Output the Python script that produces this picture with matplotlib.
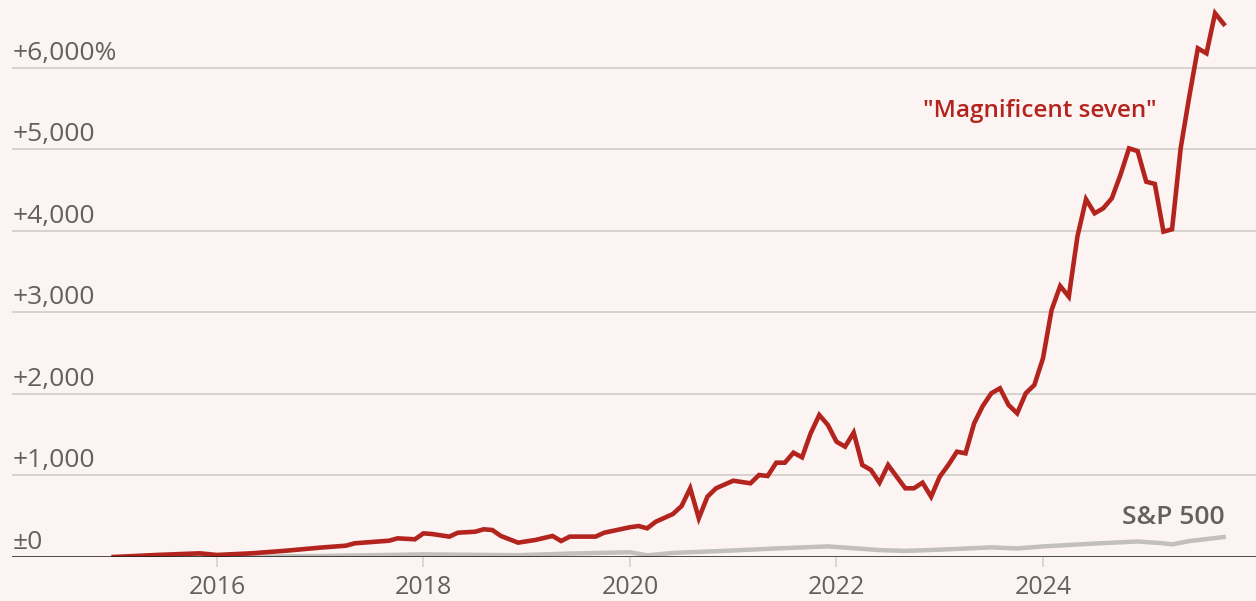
import matplotlib
matplotlib.use("Agg")
import matplotlib.pyplot as plt
import matplotlib.transforms as mtransforms

# ---- data (cumulative return, %) ----
mag7_dates = ["2015-01", "2015-06", "2015-11", "2016-01", "2016-05", "2016-09", "2017-01",
              "2017-04", "2017-05", "2017-09", "2017-10", "2017-12", "2018-01", "2018-02",
              "2018-04", "2018-05", "2018-07", "2018-08", "2018-09", "2018-10", "2018-12",
              "2019-02", "2019-04", "2019-05", "2019-06", "2019-09", "2019-10", "2020-01",
              "2020-02", "2020-03", "2020-04", "2020-06", "2020-07", "2020-08", "2020-09",
              "2020-10", "2020-11", "2021-01", "2021-03", "2021-04", "2021-05", "2021-06",
              "2021-07", "2021-08", "2021-09", "2021-10", "2021-11", "2021-12", "2022-01",
              "2022-02", "2022-03", "2022-04", "2022-05", "2022-06", "2022-07", "2022-08",
              "2022-09", "2022-10", "2022-11", "2022-12", "2023-01", "2023-02", "2023-03",
              "2023-04", "2023-05", "2023-06", "2023-07", "2023-08", "2023-09", "2023-10",
              "2023-11", "2023-12", "2024-01", "2024-02", "2024-03", "2024-04", "2024-05",
              "2024-06", "2024-07", "2024-08", "2024-09", "2024-10", "2024-11", "2024-12",
              "2025-01", "2025-02", "2025-03", "2025-04", "2025-05", "2025-06", "2025-07",
              "2025-08", "2025-09", "2025-10"]
mag7_values = [0, 25, 45, 25, 45, 77, 115,
               139, 168, 200, 229, 217, 290, 282,
               250, 298, 310, 340, 331, 258, 176,
               209, 258, 196, 250, 250, 298, 365,
               380, 352, 433, 528, 626, 843, 475,
               740, 843, 936, 904, 1006, 994, 1157,
               1157, 1280, 1223, 1518, 1742, 1620, 1415,
               1354, 1526, 1129, 1068, 912, 1129, 985,
               843, 843, 912, 740, 985, 1129, 1292,
               1272, 1641, 1853, 2009, 2070, 1865, 1763,
               2009, 2111, 2438, 3031, 3325, 3194, 3931,
               4389, 4217, 4278, 4401, 4687, 5014, 4980,
               4605, 4577, 3992, 4021, 5014, 5648, 6241,
               6180, 6671, 6540]

sp_dates = ["2015-01", "2015-08", "2016-01", "2016-06", "2017-01", "2018-01", "2018-12",
            "2019-06", "2020-01", "2020-03", "2020-06", "2021-01", "2021-06", "2021-12",
            "2022-06", "2022-09", "2023-01", "2023-07", "2023-10", "2024-01", "2024-07",
            "2024-12", "2025-03", "2025-04", "2025-06", "2025-10"]
sp_values = [0, 0, -3, 5, 12, 32, 22,
             42, 58, 20, 50, 80, 105, 130,
             85, 75, 90, 118, 105, 130, 165,
             190, 168, 155, 195, 245]

ytick_values = [0, 1000, 2000, 3000, 4000, 5000, 6000]
ytick_labels = ["±0", "+1,000", "+2,000", "+3,000", "+4,000", "+5,000", "+6,000%"]
xtick_years = [2016, 2018, 2020, 2022, 2024]


def to_year(s):
    y, m = s.split("-")
    return int(y) + (int(m) - 1) / 12.0


mag7_x = [to_year(d) for d in mag7_dates]
sp_x = [to_year(d) for d in sp_dates]

# ---- style ----
BG = "#fbf4f2"
RED = "#b3241f"
GREY_LINE = "#c2bfbd"
TEXT = "#66605c"
GRID = "#d8d2cf"
FONT = ["Open Sans", "DejaVu Sans"]
plt.rcParams["font.family"] = FONT

W, H = 1256, 601
fig = plt.figure(figsize=(W / 100, H / 100), dpi=100, facecolor=BG)
ax = fig.add_axes([12 / W, (H - 557) / H, (W - 12) / W, 557 / H])
ax.set_facecolor(BG)

ax.set_xlim(2014.015, 2026.063)
ax.set_ylim(0, 6834)

for v in ytick_values[1:]:
    ax.axhline(v, color=GRID, lw=1.4, zorder=1)

ax.plot(sp_x, sp_values, color=GREY_LINE, lw=3.2, zorder=3, solid_joinstyle="round")
ax.plot(mag7_x, mag7_values, color=RED, lw=3.3, zorder=4, solid_joinstyle="miter")

ax.axhline(0, color="#1a1a1a", lw=1.8, zorder=5)

for s in ax.spines.values():
    s.set_visible(False)

ax.set_yticks([])
ax.set_xticks(xtick_years)
ax.set_xticklabels([str(y) for y in xtick_years])
ax.tick_params(axis="x", length=7, width=1.2, color=GRID, pad=6,
               labelsize=18, labelcolor=TEXT)

# y labels above gridlines
trans = mtransforms.blended_transform_factory(ax.transAxes, ax.transData)
trans = mtransforms.offset_copy(trans, fig=fig, x=1, y=8, units="dots")
for v, lab in zip(ytick_values, ytick_labels):
    ax.text(0.0, v, lab, transform=trans, ha="left", va="baseline",
            fontsize=19, color=TEXT)

ax.text(2025.10, 5399, '"Magnificent seven"', ha="right", va="baseline",
        fontsize=17.5, color=RED, fontweight="semibold")
ax.text(2025.76, 405, "S&P 500", ha="right", va="baseline",
        fontsize=19, color=TEXT, fontweight="semibold")

fig.savefig("out.png", dpi=100, facecolor=BG)
